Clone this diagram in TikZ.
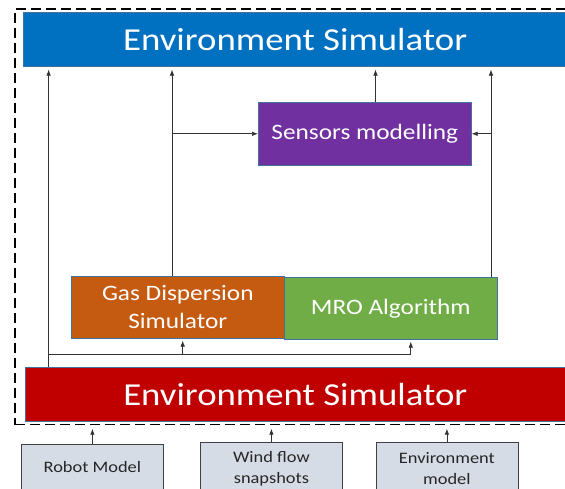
\documentclass[tikz,border=0pt]{standalone}
\usepackage{fontspec}
\setmainfont{Carlito}[FakeStretch=1.15]
\usetikzlibrary{positioning,calc,arrows.meta}

\definecolor{simblue}{HTML}{0070C0}
\definecolor{simred}{HTML}{C00000}
\definecolor{sensorpurple}{HTML}{7030A0}
\definecolor{gasorange}{HTML}{C55A11}
\definecolor{mrogreen}{HTML}{70AD47}
\definecolor{inputgray}{HTML}{D6DCE5}
\definecolor{edgeblue}{HTML}{41719C}

\begin{document}
\begin{tikzpicture}[x=1pt, y=-1pt, >={Latex[length=6pt,width=4.5pt]}, semithick,
   block/.style={rectangle, draw=edgeblue, line width=0.6pt, text=white,
                 inner sep=0pt, anchor=north west},
   bigblock/.style={block, minimum height=54pt, font=\fontsize{32}{38}\selectfont},
   midblock/.style={block, minimum width=213pt, font=\fontsize{22}{28}\selectfont, align=center},
   input/.style={rectangle, draw=black!75, fill=inputgray, line width=0.8pt,
                 text=black!85, align=center, inner sep=0pt, anchor=north west,
                 minimum width=142pt, font=\fontsize{16}{21}\selectfont},
   arr/.style={->, draw=black!80, line width=0.7pt}]

  \useasboundingbox (0,0) rectangle (565,488);
  \clip (0,0) rectangle (565,488);

  % dashed frame round the simulator
  \node [draw=black, line width=1.2pt, dash pattern=on 10pt off 5pt,
         anchor=north west, inner sep=0pt, minimum width=600pt,
         minimum height=415.7pt] (frame) at (14.4,8.3) {};

  \node [bigblock, fill=simblue, minimum width=543pt] (envtop) at (23.4,12) {Environment Simulator};
  \node [midblock, fill=sensorpurple, minimum height=63pt] (sensors) at (258,102) {Sensors modelling};
  \node [midblock, fill=gasorange, minimum height=62pt] (gas) at (71,276) {Gas Dispersion\\Simulator};
  \node [midblock, fill=mrogreen, minimum height=62pt] (mro) at (284,277) {MRO Algorithm};
  \node [bigblock, fill=simred, minimum width=540pt] (envbot) at (25,367.3) {Environment Simulator};

  % inputs below the frame
  \node [input, minimum height=46pt] (robot) at (21,444) {Robot Model};
  \node [input, minimum height=52pt] (wind) at (200,442) {Wind flow\\snapshots};
  \node [input, minimum height=52pt] (envmodel) at (375.5,442) {Environment\\model};

  \coordinate (colA) at (48.6,0);
  \coordinate (colB) at (172,0);
  \coordinate (colC) at (375.5,0);
  \coordinate (colD) at (491,0);
  \coordinate (colE) at (410.8,0);
  \coordinate (colF) at (182.7,0);
  \coordinate (bus) at (0,354);

  \draw [arr, shorten >=3pt] (colA |- envbot.north) -- (colA |- envtop.south);
  \draw [arr, shorten >=3pt] (colB |- gas.north) -- (colB |- envtop.south);
  \draw [arr, shorten >=3pt] (colC |- sensors.north) -- (colC |- envtop.south);
  \draw [arr, shorten >=3pt] (colD |- mro.north) -- (colD |- envtop.south);
  \draw [arr] (colB |- sensors.west) -- (sensors.west);
  \draw [arr] (colD |- sensors.east) -- (sensors.east);

  \draw [draw=black!80, line width=0.7pt] (colA |- bus) -- (colE |- bus);
  \draw [arr, shorten >=2pt] (colE |- bus) -- (colE |- mro.south);
  \draw [arr, shorten >=2pt] (colF |- bus) -- (colF |- gas.south);

  \draw [arr, shorten >=3.5pt] (robot.north) -- (robot.north |- frame.south);
  \draw [arr, shorten >=3.5pt] (wind.north) -- (wind.north |- frame.south);
  \draw [arr, shorten >=3.5pt] (envmodel.north) -- (envmodel.north |- frame.south);
\end{tikzpicture}
\end{document}
